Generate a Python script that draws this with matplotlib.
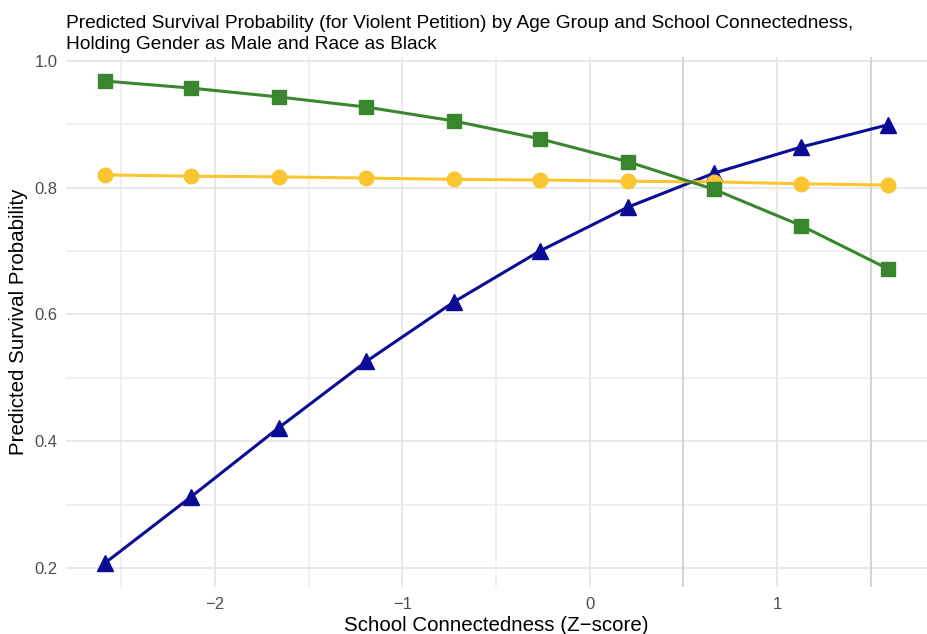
import matplotlib.pyplot as plt
from matplotlib.ticker import MultipleLocator

plt.rcParams['font.family'] = ['Liberation Sans', 'DejaVu Sans']

# School connectedness z-score values where predictions were made
zScore = [-2.585, -2.128, -1.660, -1.191, -0.723, -0.266, 0.202, 0.665, 1.128, 1.590]

# predicted survival probability per age group
greenProb = [0.968, 0.957, 0.943, 0.927, 0.905, 0.877, 0.841, 0.797, 0.740, 0.672]
yellowProb = [0.820, 0.818, 0.817, 0.815, 0.813, 0.812, 0.810, 0.809, 0.806, 0.804]
blueProb = [0.208, 0.312, 0.421, 0.526, 0.620, 0.700, 0.769, 0.823, 0.864, 0.899]

xTicks = [-2, -1, 0, 1]
yTicks = [0.2, 0.4, 0.6, 0.8, 1.0]

fig = plt.figure(figsize=(9.27, 6.34), dpi=100)
ax = fig.add_axes([66 / 927, 1 - 587 / 634, 1 - 66 / 927, (587 - 57) / 634])

ax.plot(zScore, blueProb, color='#0b0b96', lw=2.2, marker='^', ms=12, zorder=3)
ax.plot(zScore, yellowProb, color='#fbc531', lw=2.2, marker='o', ms=10.5, zorder=4)
ax.plot(zScore, greenProb, color='#3a862e', lw=2.2, marker='s', ms=9.5, zorder=5)

ax.set_xlim(-2.794, 1.799)
ax.set_ylim(0.170, 1.006)
ax.set_xticks(xTicks)
ax.set_xticklabels(['\u22122', '\u22121', '0', '1'])
ax.set_yticks(yTicks)
ax.set_yticklabels(['0.2', '0.4', '0.6', '0.8', '1.0'])
ax.xaxis.set_minor_locator(MultipleLocator(0.5))
ax.yaxis.set_minor_locator(MultipleLocator(0.1))

ax.grid(True, which='major', color='#e6e6e6', lw=1.3, zorder=0)
ax.grid(True, which='minor', color='#ececec', lw=1.1, zorder=0)
# the half-unit vertical lines come out darker in the original
for xv in [0.5, 1.5]:
    ax.axvline(xv, color='#cdcdcd', lw=1.1, zorder=1)
ax.set_axisbelow(True)

for s in ax.spines.values():
    s.set_visible(False)
ax.tick_params(which='both', length=0, labelsize=12, labelcolor='#4d4d4d')
ax.tick_params(axis='x', pad=7)
ax.tick_params(axis='y', pad=6)

ax.set_xlabel('School Connectedness (Z\u2212score)', fontsize=14.8, labelpad=3)
ax.set_ylabel('Predicted Survival Probability', fontsize=14.8, labelpad=4.5)
ax.set_title('Predicted Survival Probability (for Violent Petition) by Age Group and School Connectedness,\n'
             'Holding Gender as Male and Race as Black', fontsize=13.8, loc='left', pad=6, linespacing=1.3)

fig.savefig('out.png', dpi=100)
